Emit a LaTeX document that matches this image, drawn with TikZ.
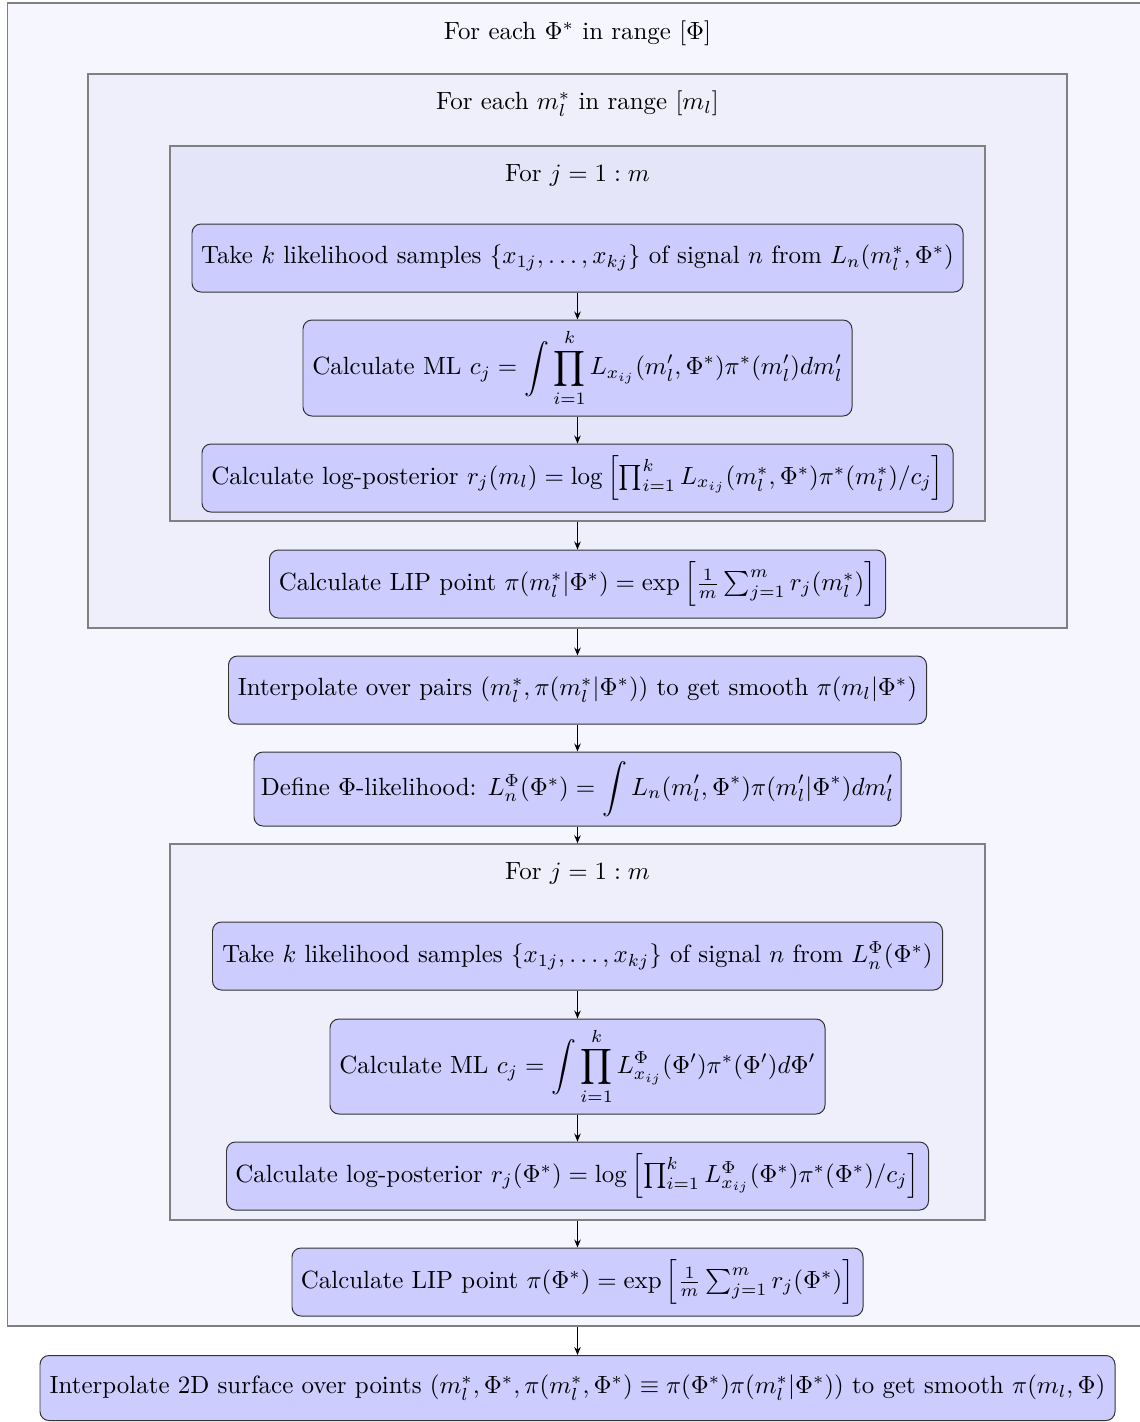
\documentclass[tikz,border=0pt]{standalone}
\usepackage{amsmath}
\usetikzlibrary{arrows.meta}
\newcommand\pxu{0.4013pt}
\definecolor{fillA}{RGB}{246,246,255}
\definecolor{fillB}{RGB}{239,239,252}
\definecolor{fillC}{RGB}{229,229,250}
\definecolor{fillN}{RGB}{204,204,255}
\tikzset{
  frame/.style={draw=black!50, line width=0.6pt, inner sep=0pt, rectangle},
  title/.style={inner sep=0pt, anchor=center},
  stepbox/.style={draw=black!80, fill=fillN, rounded corners=3.6pt, line width=0.4pt, inner sep=0pt, align=center},
  conn/.style={-{Stealth[length=3.2pt,width=2.6pt]}, line width=0.4pt}
}
\begin{document}
\begin{tikzpicture}[x=0.4013pt,y=-0.4013pt]
\useasboundingbox (0,0) rectangle (1140,1422);
% frames
\node[frame, fill=fillA, minimum width=1140*\pxu, minimum height=1323*\pxu] (F1) at (577.5,664.5) {};
\node[frame, fill=fillB, minimum width=979*\pxu, minimum height=554*\pxu] (F2) at (577.5,351) {};
\node[frame, fill=fillC, minimum width=815*\pxu, minimum height=375*\pxu] (F3) at (577.5,333.5) {};
\node[frame, fill=fillB, minimum width=815*\pxu, minimum height=376*\pxu] (F4) at (577.5,1032) {};
% titles
\node[title] (T1) at (577.5,33) {For each $\Phi^*$ in range $[\Phi]$};
\node[title] (T2) at (577.5,104) {For each $m_l^*$ in range $[m_l]$};
\node[title] (T3) at (577.5,175) {For $j=1:m$};
\node[title] (T4) at (577.5,873) {For $j=1:m$};
% steps
\node[stepbox, minimum width=771*\pxu, minimum height=68*\pxu] (A1) at (577.5,258)
  {Take $k$ likelihood samples $\{x_{1j},\ldots,x_{kj}\}$ of signal $n$ from $L_n(m_l^*,\Phi^*)$};
\node[stepbox, minimum width=549*\pxu, minimum height=96*\pxu] (A2) at (577.5,368)
  {Calculate ML $c_j=\displaystyle\int\prod_{i=1}^{k}L_{x_{ij}}(m_l',\Phi^*)\pi^*(m_l')dm_l'$};
\node[stepbox, minimum width=751*\pxu, minimum height=68*\pxu] (A3) at (577.5,478)
  {Calculate log-posterior $r_j(m_l)=\log\left[\prod_{i=1}^{k}L_{x_{ij}}(m_l^*,\Phi^*)\pi^*(m_l^*)/c_j\right]$};
\node[stepbox, minimum width=616*\pxu, minimum height=68*\pxu] (A4) at (577.5,584)
  {Calculate LIP point $\pi(m_l^*|\Phi^*)=\exp\left[\frac{1}{m}\sum_{j=1}^{m}r_j(m_l^*)\right]$};
\node[stepbox, minimum width=698*\pxu, minimum height=68*\pxu] (B1) at (577.5,690)
  {Interpolate over pairs $(m_l^*,\pi(m_l^*|\Phi^*))$ to get smooth $\pi(m_l|\Phi^*)$};
\node[stepbox, minimum width=647*\pxu, minimum height=74*\pxu] (B2) at (577.5,789)
  {Define $\Phi$-likelihood: $L_n^\Phi(\Phi^*)=\displaystyle\int L_n(m_l',\Phi^*)\pi(m_l'|\Phi^*)dm_l'$};
\node[stepbox, minimum width=730*\pxu, minimum height=68*\pxu] (C1) at (577.5,956)
  {Take $k$ likelihood samples $\{x_{1j},\ldots,x_{kj}\}$ of signal $n$ from $L_n^\Phi(\Phi^*)$};
\node[stepbox, minimum width=495*\pxu, minimum height=95*\pxu] (C2) at (577.5,1066.5)
  {Calculate ML $c_j=\displaystyle\int\prod_{i=1}^{k}L^\Phi_{x_{ij}}(\Phi')\pi^*(\Phi')d\Phi'$};
\node[stepbox, minimum width=702*\pxu, minimum height=68*\pxu] (C3) at (577.5,1176)
  {Calculate log-posterior $r_j(\Phi^*)=\log\left[\prod_{i=1}^{k}L^\Phi_{x_{ij}}(\Phi^*)\pi^*(\Phi^*)/c_j\right]$};
\node[stepbox, minimum width=571*\pxu, minimum height=68*\pxu] (C4) at (577.5,1282)
  {Calculate LIP point $\pi(\Phi^*)=\exp\left[\frac{1}{m}\sum_{j=1}^{m}r_j(\Phi^*)\right]$};
\node[stepbox, minimum width=1075*\pxu, minimum height=65*\pxu] (D) at (577.5,1388)
  {Interpolate 2D surface over points $(m_l^*,\Phi^*,\pi(m_l^*,\Phi^*)\equiv\pi(\Phi^*)\pi(m_l^*|\Phi^*))$ to get smooth $\pi(m_l,\Phi)$};
% connectors
\draw[conn] (A1.south) -- (A2.north);
\draw[conn] (A2.south) -- (A3.north);
\draw[conn] (F3.south) -- (A4.north);
\draw[conn] (F2.south) -- (B1.north);
\draw[conn] (B1.south) -- (B2.north);
\draw[conn] (B2.south) -- (F4.north);
\draw[conn] (C1.south) -- (C2.north);
\draw[conn] (C2.south) -- (C3.north);
\draw[conn] (F4.south) -- (C4.north);
\draw[conn] (F1.south) -- (D.north);
\end{tikzpicture}
\end{document}
